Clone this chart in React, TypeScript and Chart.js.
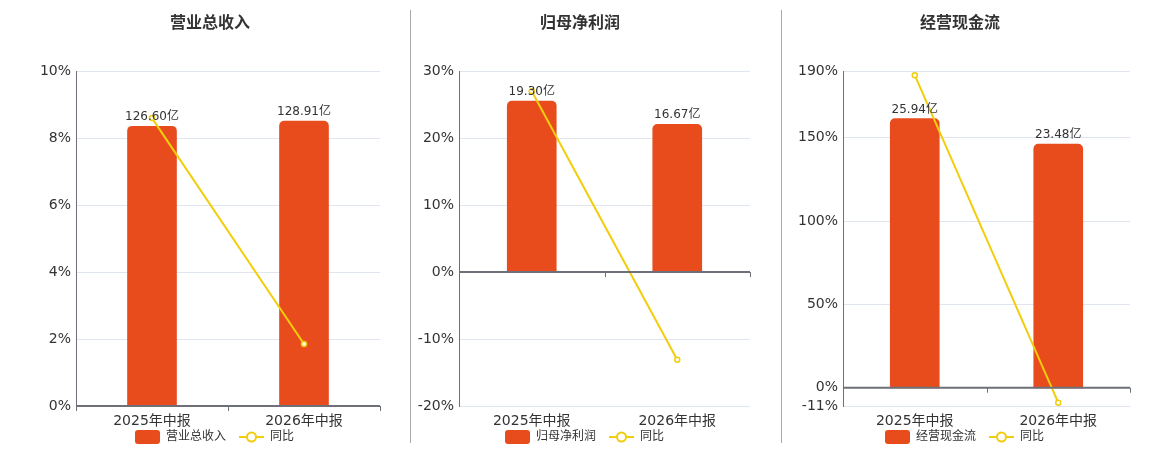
import React, { useEffect, useRef } from "react";
import { Chart, registerables } from "chart.js";

Chart.register(...registerables);

// ---------- data ----------
const categories = ["2025年中报", "2026年中报"];

const revenueTitle = "营业总收入";
const revenueValues = [126.6, 128.91];
const revenueYoY = [8.6, 1.85];
const revenueTicks = [0, 2, 4, 6, 8, 10];

const profitTitle = "归母净利润";
const profitValues = [19.3, 16.67];
const profitYoY = [27.0, -13.1];
const profitTicks = [-20, -10, 0, 10, 20, 30];

const cashTitle = "经营现金流";
const cashValues = [25.94, 23.48];
const cashYoY = [187.6, -9.0];
const cashTicks = [-11, 0, 50, 100, 150, 190];

const yoyLabel = "同比";

// ---------- style ----------
const BAR_COLOR = "#e84c1d";
const LINE_COLOR = "#f2cd0c";
const AXIS_COLOR = "#6e7079";
const GRID_COLOR = "#e0e6f1";
const TEXT_COLOR = "#333333";
const FONT = "'DejaVu Sans', 'Noto Sans CJK SC', sans-serif";

const ICON_W = 34;
const ICON_GAP = 9;

let barIcon: HTMLCanvasElement | null = null;
let lineIcon: HTMLCanvasElement | null = null;
function getIcons() {
  if (!barIcon) {
    barIcon = document.createElement("canvas");
    barIcon.width = ICON_W;
    barIcon.height = 14;
    const c = barIcon.getContext("2d")!;
    c.fillStyle = BAR_COLOR;
    c.beginPath();
    (c as any).roundRect(ICON_GAP, 0, ICON_W - ICON_GAP, 14, 3);
    c.fill();
  }
  if (!lineIcon) {
    lineIcon = document.createElement("canvas");
    lineIcon.width = ICON_W;
    lineIcon.height = 14;
    const c = lineIcon.getContext("2d")!;
    c.strokeStyle = LINE_COLOR;
    c.lineWidth = 2;
    c.beginPath();
    c.moveTo(ICON_GAP, 7);
    c.lineTo(ICON_W, 7);
    c.stroke();
    c.fillStyle = "#ffffff";
    c.beginPath();
    c.arc(ICON_GAP + (ICON_W - ICON_GAP) / 2, 7, 4.5, 0, Math.PI * 2);
    c.fill();
    c.stroke();
  }
  return { barIcon: barIcon!, lineIcon: lineIcon! };
}

const overlayPlugin = {
  id: "overlay",
  afterDatasetsDraw(chart: any) {
    const ctx = chart.ctx;
    const x = chart.scales.x;
    const y = chart.scales.y;
    const y0 = y.getPixelForValue(0);
    ctx.save();
    ctx.strokeStyle = AXIS_COLOR;
    ctx.lineWidth = 2;
    ctx.beginPath();
    ctx.moveTo(chart.chartArea.left, y0);
    ctx.lineTo(chart.chartArea.right, y0);
    ctx.stroke();
    ctx.lineWidth = 1;
    const n = chart.data.labels.length;
    for (let i = 0; i <= n; i++) {
      const px = Math.round(x.getPixelForValue(i - 0.5)) + 0.5;
      ctx.beginPath();
      ctx.moveTo(px, y0);
      ctx.lineTo(px, y0 + 5);
      ctx.stroke();
    }
    const meta = chart.getDatasetMeta(1);
    const vals = chart.data.datasets[1].data;
    ctx.fillStyle = TEXT_COLOR;
    ctx.font = `12px ${FONT}`;
    ctx.textAlign = "center";
    ctx.textBaseline = "bottom";
    meta.data.forEach((el: any, i: number) => {
      ctx.fillText(`${Number(vals[i]).toFixed(2)}亿`, el.x, el.y - 3);
    });
    ctx.restore();
  },
};

interface PanelProps {
  title: string;
  values: number[];
  yoy: number[];
  ticks: number[];
  barMin: number;
  barMax: number;
  yWidth: number;
}

function Panel({ title, values, yoy, ticks, barMin, barMax, yWidth }: PanelProps) {
  const ref = useRef<HTMLCanvasElement>(null);
  useEffect(() => {
    if (!ref.current) return;
    const { barIcon, lineIcon } = getIcons();
    const chart = new Chart(ref.current, {
      type: "bar",
      data: {
        labels: categories,
        datasets: [
          {
            type: "line",
            label: yoyLabel,
            data: yoy,
            yAxisID: "y",
            borderColor: LINE_COLOR,
            backgroundColor: "#ffffff",
            borderWidth: 2,
            pointRadius: 2.5,
            pointBorderWidth: 1.5,
            pointBackgroundColor: "#ffffff",
            pointBorderColor: LINE_COLOR,
            order: 0,
          } as any,
          {
            type: "bar",
            label: title,
            data: values,
            yAxisID: "y1",
            backgroundColor: BAR_COLOR,
            borderRadius: { topLeft: 5, topRight: 5, bottomLeft: 0, bottomRight: 0 },
            borderSkipped: false,
            barThickness: 49,
            order: 1,
          } as any,
        ],
      },
      options: {
        animation: false,
        responsive: true,
        maintainAspectRatio: false,
        layout: { padding: { left: 10, right: 10, top: 0, bottom: 1 } },
        plugins: {
          tooltip: { enabled: false },
          title: {
            display: true,
            text: title,
            color: TEXT_COLOR,
            font: { family: FONT, size: 16, weight: "bold" },
            padding: { top: 6, bottom: 38 },
          },
          legend: {
            position: "bottom",
            labels: {
              usePointStyle: true,
              pointStyleWidth: ICON_W,
              boxHeight: 14,
              padding: 4,
              color: TEXT_COLOR,
              font: { family: FONT, size: 12 },
              generateLabels: () => [
                {
                  text: title,
                  pointStyle: barIcon,
                  fillStyle: BAR_COLOR,
                  strokeStyle: BAR_COLOR,
                  lineWidth: 0,
                  hidden: false,
                  datasetIndex: 1,
                  fontColor: TEXT_COLOR,
                } as any,
                {
                  text: yoyLabel,
                  pointStyle: lineIcon,
                  fillStyle: LINE_COLOR,
                  strokeStyle: LINE_COLOR,
                  lineWidth: 0,
                  hidden: false,
                  datasetIndex: 0,
                  fontColor: TEXT_COLOR,
                } as any,
              ],
            },
          },
        },
        scales: {
          x: {
            offset: true,
            grid: { display: false, drawTicks: false },
            border: { display: false },
            afterFit: (scale: any) => {
              scale.height = 21;
            },
            ticks: {
              color: TEXT_COLOR,
              font: { family: FONT, size: 14 },
              padding: 7,
              maxRotation: 0,
            },
          },
          y: {
            position: "left",
            min: ticks[0],
            max: ticks[ticks.length - 1],
            afterBuildTicks: (scale: any) => {
              scale.ticks = ticks.map((v) => ({ value: v }));
            },
            afterFit: (scale: any) => {
              scale.width = yWidth;
            },
            grid: {
              drawTicks: false,
              color: (c: any) => (c.tick && c.tick.value === 0 ? "rgba(0,0,0,0)" : GRID_COLOR),
            },
            border: { display: true, color: AXIS_COLOR, width: 1 },
            ticks: {
              color: TEXT_COLOR,
              font: { family: FONT, size: 14 },
              padding: 5,
              autoSkip: false,
              callback: (v: any) => `${v}%`,
            },
          },
          y1: {
            display: false,
            min: barMin,
            max: barMax,
          },
        },
      } as any,
      plugins: [overlayPlugin],
    });
    return () => chart.destroy();
  }, []);
  return <canvas ref={ref} />;
}

export default function App() {
  const panelStyle = (left: number, width: number): React.CSSProperties => ({
    position: "absolute",
    left,
    top: 0,
    width,
    height: 446,
  });
  const divider = (left: number): React.CSSProperties => ({
    position: "absolute",
    left,
    top: 2,
    width: 1,
    height: 433,
    background: "#aaaaaa",
  });
  return (
    <div style={{ position: "relative", width: 1144, height: 442, overflow: "hidden" }}>
      <div style={panelStyle(22, 360)}>
        <Panel
          title={revenueTitle}
          values={revenueValues}
          yoy={revenueYoY}
          ticks={revenueTicks}
          barMin={0}
          barMax={151.5}
          yWidth={36}
        />
      </div>
      <div style={divider(402)} />
      <div style={panelStyle(392, 360)}>
        <Panel
          title={profitTitle}
          values={profitValues}
          yoy={profitYoY}
          ticks={profitTicks}
          barMin={-15.1}
          barMax={22.66}
          yWidth={49}
        />
      </div>
      <div style={divider(773)} />
      <div style={panelStyle(772, 360)}>
        <Panel
          title={cashTitle}
          values={cashValues}
          yoy={cashYoY}
          ticks={cashTicks}
          barMin={-1.73}
          barMax={30.5}
          yWidth={53}
        />
      </div>
    </div>
  );
}
